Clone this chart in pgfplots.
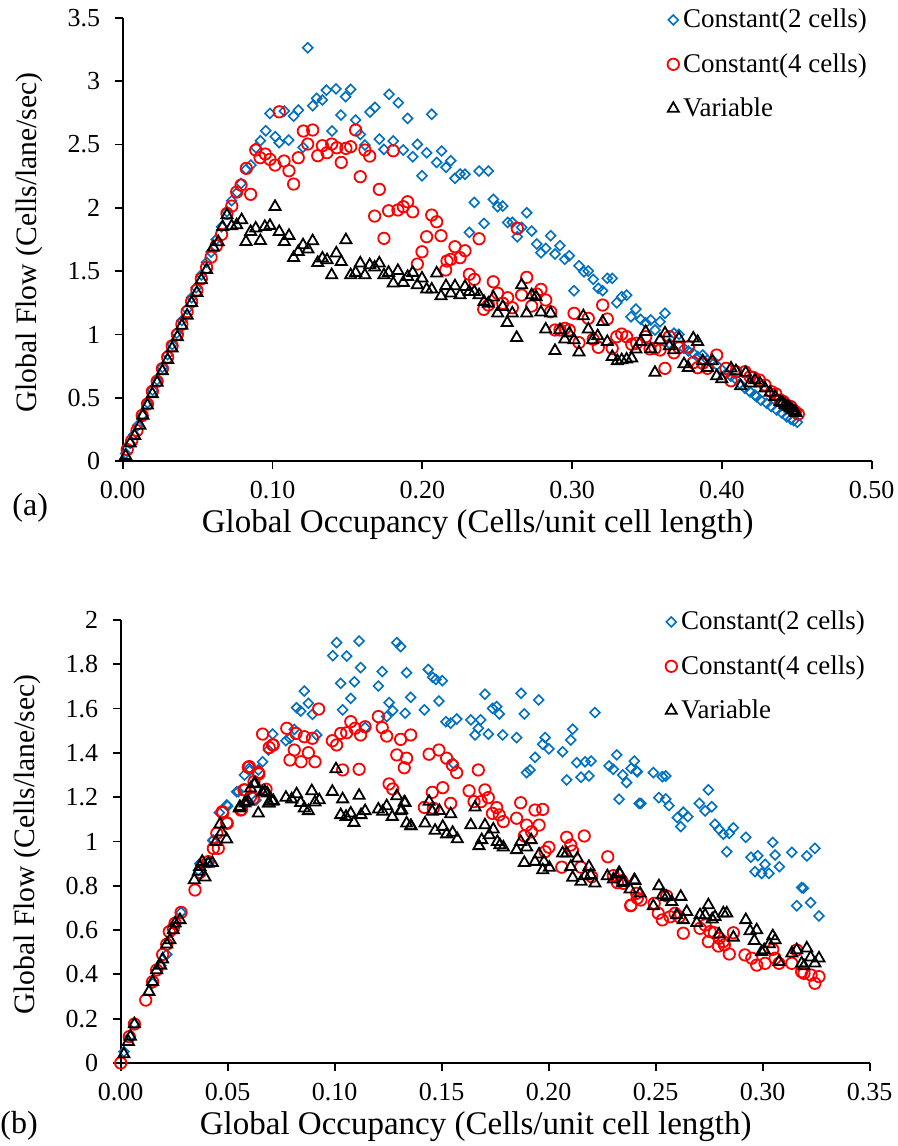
\documentclass[border=0pt]{standalone}
\usepackage{pgfplots}
\pgfplotsset{compat=1.18}
\usepackage{fontspec}
\setmainfont{Liberation Serif}
\definecolor{cblue}{HTML}{0070C0}
\definecolor{cred}{HTML}{FF0000}
\pgfplotsset{
  myaxis/.style={
    scale only axis, width=374.5pt, height=221.5pt,
    axis lines=left, axis line style={-, line width=0.9pt},
    tick align=outside, major tick length=3.8pt,
    tick style={line width=0.9pt, black},
    xmin=0, ymin=0,
    /pgf/number format/assume math mode=true,
    ticklabel style={font=\fontsize{13}{14}\selectfont},
    xlabel={Global Occupancy (Cells/unit cell length)},
    ylabel={Global Flow (Cells/lane/sec)},
    xlabel style={font=\fontsize{16.5}{18}\selectfont, at={(axis description cs:0.474,-0.144)}, anchor=center},
    ylabel style={font=\fontsize{14.8}{16}\selectfont, at={(axis description cs:-0.1245,0.493)}, anchor=center},
    xticklabel style={yshift=-3pt, /pgf/number format/.cd, fixed, fixed zerofill, precision=2},
    yticklabel style={xshift=-4pt, /pgf/number format/.cd, fixed, precision=1},
    legend style={draw=none, fill=none, font=\fontsize{13.5}{15}\selectfont,
      legend cell align=left, row sep=7.3pt, inner sep=0pt},
    legend cell align=left,
  },
  sblue/.style={only marks, mark=square, mark size=1.75pt, mark options={rotate=45, draw=cblue, line width=0.8pt}},
  sred/.style={only marks, mark=o, mark size=2.85pt, mark options={draw=cred, line width=0.9pt}},
  sblack/.style={only marks, mark=triangle, mark size=3.2pt, mark options={draw=black, line width=0.9pt}},
}
\begin{document}
\begin{tikzpicture}
\useasboundingbox (0,0) rectangle (449pt,573pt);
% ---------- panel (a) ----------
\begin{axis}[myaxis, at={(61.35pt,342.5pt)}, anchor=origin,
  xmax=0.5, ymax=3.5, xtick={0,0.1,...,0.5}, ytick={0,0.5,...,3.5},
  legend style={at={(axis description cs:0.727,1.03)}, anchor=north west}]
\addplot[sblue] table[row sep=\\]{x y\\
0.002 0.06\\ 0.005 0.14\\ 0.0075 0.21\\ 0.01 0.28\\ 0.013 0.36\\ 0.0165 0.46\\ 0.02 0.56\\ 0.023 0.64\\ 0.0265 0.74\\ 0.03 0.84\\
0.033 0.92\\ 0.036 1.01\\ 0.0395 1.11\\ 0.043 1.20\\ 0.046 1.29\\ 0.049 1.37\\ 0.0525 1.47\\ 0.056 1.57\\ 0.059 1.65\\ 0.0625 1.75\\
0.066 1.85\\ 0.0696 1.97\\ 0.0727 2.056\\ 0.0763 2.12\\ 0.079 2.193\\ 0.0823 2.304\\ 0.0856 2.338\\
0.089 2.475\\ 0.0919 2.53\\ 0.0955 2.609\\ 0.0983 2.746\\ 0.1019 2.562\\ 0.1045 2.515\\ 0.1079 2.765\\ 0.1108 2.535\\ 0.1141 2.725\\ 0.1173 2.772\\
0.1204 2.478\\ 0.1235 3.265\\ 0.1268 2.807\\ 0.1295 2.865\\ 0.1333 2.852\\ 0.136 2.93\\ 0.1397 2.607\\ 0.1424 2.94\\ 0.1457 2.733\\ 0.1488 2.878\\
0.1522 2.936\\ 0.1555 2.694\\ 0.1586 2.58\\ 0.1617 2.496\\ 0.1651 2.757\\ 0.1684 2.794\\ 0.1713 2.543\\ 0.1744 2.462\\ 0.1778 2.897\\ 0.1806 2.528\\
0.184 2.83\\ 0.1873 2.457\\ 0.1902 2.707\\ 0.1936 2.404\\ 0.1967 2.502\\ 0.1998 2.254\\ 0.2029 2.435\\ 0.2063 2.739\\ 0.2096 2.359\\ 0.2129 2.449\\
0.2158 2.32\\ 0.219 2.372\\ 0.2218 2.233\\ 0.2252 2.267\\ 0.2285 2.265\\ 0.2314 1.806\\ 0.2347 2.043\\ 0.2379 2.291\\ 0.2412 1.877\\ 0.2441 2.291\\
0.2474 2.067\\ 0.2503 2.009\\ 0.2537 2.014\\ 0.257 1.885\\ 0.2601 1.885\\ 0.2634 1.772\\ 0.2663 1.846\\ 0.2697 1.961\\ 0.273 1.817\\ 0.2764 1.714\\
0.2792 1.645\\ 0.2824 1.68\\ 0.2857 1.78\\ 0.2886 1.635\\ 0.2919 1.701\\ 0.2951 1.593\\ 0.2981 1.622\\ 0.3013 1.345\\ 0.3046 1.543\\ 0.3079 1.495\\
0.3108 1.501\\ 0.3141 1.435\\ 0.3175 1.364\\ 0.3204 1.345\\ 0.3235 1.443\\ 0.3268 1.443\\ 0.3298 1.25\\ 0.3331 1.298\\ 0.3364 1.311\\ 0.3393 1.14\\
0.3426 1.2\\ 0.3458 1.119\\ 0.3491 1.092\\ 0.3525 1.114\\ 0.3553 1.035\\ 0.3587 1.1\\ 0.362 1.167\\ 0.3649 0.93\\ 0.368 1.009\\ 0.3713 1.001\\
0.3747 0.89\\ 0.3776 0.869\\ 0.3809 0.851\\ 0.3838 0.824\\ 0.3872 0.837\\ 0.3903 0.798\\ 0.3936 0.798\\ 0.3965 0.758\\ 0.4 0.72\\ 0.403 0.69\\
0.406 0.67\\ 0.409 0.65\\ 0.412 0.61\\ 0.4154 0.574\\ 0.4188 0.547\\ 0.422 0.52\\ 0.4232 0.508\\ 0.426 0.48\\ 0.4299 0.456\\ 0.433 0.43\\
0.4366 0.403\\ 0.44 0.38\\ 0.4433 0.35\\ 0.446 0.33\\ 0.448 0.32\\ 0.4503 0.306\\
};
\addlegendentry{Constant(2 cells)}
\addplot[sred] table[row sep=\\]{x y\\
0.003 0.09\\ 0.006 0.16\\ 0.0095 0.24\\ 0.013 0.36\\ 0.0165 0.45\\ 0.0198 0.55\\ 0.023 0.63\\ 0.0265 0.73\\ 0.03 0.82\\ 0.033 0.91\\
0.0365 1.0\\ 0.0395 1.08\\ 0.043 1.18\\ 0.046 1.26\\ 0.0495 1.35\\ 0.0525 1.44\\ 0.056 1.53\\ 0.059 1.61\\ 0.0625 1.70\\ 0.066 1.79\\
0.0696 1.956\\ 0.0728 2.014\\ 0.0761 2.125\\ 0.079 2.18\\ 0.0825 2.312\\ 0.0854 2.107\\ 0.0888 2.457\\ 0.0917 2.396\\ 0.0952 2.425\\ 0.0983 2.383\\
0.1017 2.338\\ 0.1045 2.759\\ 0.1077 2.37\\ 0.111 2.293\\ 0.1141 2.188\\ 0.1172 2.396\\ 0.1206 2.607\\ 0.1235 2.504\\ 0.1268 2.615\\ 0.1302 2.412\\
0.1333 2.491\\ 0.1364 2.436\\ 0.1395 2.504\\ 0.1429 2.475\\ 0.1459 2.359\\ 0.149 2.47\\ 0.1522 2.483\\ 0.1555 2.615\\ 0.1586 2.246\\ 0.1617 2.457\\
0.1649 2.409\\ 0.1682 1.935\\ 0.1713 2.146\\ 0.1744 1.759\\ 0.1775 1.977\\ 0.1806 2.451\\ 0.1837 1.983\\ 0.1873 2.009\\ 0.1902 2.048\\ 0.1936 1.969\\
0.1967 1.556\\ 0.1998 1.653\\ 0.2029 1.772\\ 0.2063 1.943\\ 0.2096 1.89\\ 0.2125 1.78\\ 0.2156 1.509\\ 0.2165 1.58\\ 0.219 1.593\\ 0.2218 1.693\\
0.2252 1.606\\ 0.2285 1.661\\ 0.2314 1.475\\ 0.2347 1.435\\ 0.2379 1.756\\ 0.241 1.198\\ 0.2441 1.232\\ 0.2474 1.416\\ 0.2503 1.325\\ 0.2537 1.246\\
0.257 1.29\\ 0.2601 1.211\\ 0.2634 1.838\\ 0.2663 1.311\\ 0.2697 1.451\\ 0.273 1.224\\ 0.2764 1.319\\ 0.2792 1.356\\ 0.2824 1.272\\ 0.2857 1.179\\
0.2886 1.035\\ 0.2919 1.035\\ 0.2952 1.048\\ 0.2981 1.035\\ 0.3013 1.167\\ 0.3046 0.935\\ 0.3108 1.127\\ 0.3141 0.961\\ 0.3175 0.898\\ 0.3204 1.232\\
0.3235 1.122\\ 0.3268 0.89\\ 0.3298 0.982\\ 0.3331 1.003\\ 0.3364 0.982\\ 0.3398 0.922\\ 0.3431 0.93\\ 0.3491 0.982\\ 0.352 0.885\\ 0.3553 0.89\\
0.3587 0.877\\ 0.362 0.732\\ 0.3649 0.982\\ 0.368 0.855\\ 0.3713 0.895\\ 0.3776 0.903\\ 0.3809 0.777\\ 0.3838 0.737\\ 0.3872 0.772\\ 0.3903 0.732\\
0.3965 0.837\\ 0.4027 0.732\\ 0.4061 0.634\\ 0.4094 0.705\\ 0.4154 0.705\\ 0.4188 0.666\\ 0.421 0.66\\ 0.425 0.64\\ 0.4288 0.6\\ 0.4332 0.547\\
0.436 0.53\\ 0.4389 0.482\\ 0.441 0.47\\ 0.4433 0.442\\ 0.446 0.43\\ 0.4477 0.403\\ 0.449 0.39\\ 0.451 0.371\\
};
\addlegendentry{Constant(4 cells)}
\addplot[sblack] table[row sep=\\]{x y\\
0.002 0.04\\ 0.005 0.14\\ 0.008 0.2\\ 0.0115 0.28\\ 0.0135 0.36\\ 0.0165 0.44\\ 0.0198 0.53\\ 0.023 0.62\\ 0.0265 0.71\\ 0.03 0.8\\
0.033 0.89\\ 0.0365 0.98\\ 0.0395 1.07\\ 0.043 1.15\\ 0.046 1.25\\ 0.0495 1.33\\ 0.0525 1.43\\ 0.056 1.51\\ 0.0605 1.688\\ 0.0638 1.73\\
0.0667 1.85\\ 0.0696 1.943\\ 0.0727 1.856\\ 0.0761 1.864\\ 0.0794 1.904\\ 0.0823 1.732\\ 0.0854 1.811\\ 0.0888 1.838\\ 0.0919 1.74\\ 0.0949 1.851\\
0.0983 1.859\\ 0.1017 2.009\\ 0.1045 1.811\\ 0.1079 1.732\\ 0.111 1.78\\ 0.1141 1.606\\ 0.1172 1.653\\ 0.1204 1.706\\ 0.1237 1.672\\ 0.1268 1.738\\
0.1302 1.566\\ 0.1333 1.601\\ 0.1364 1.588\\ 0.1395 1.469\\ 0.1426 1.641\\ 0.1459 1.574\\ 0.149 1.746\\ 0.1522 1.469\\ 0.1555 1.488\\ 0.1586 1.562\\
0.1617 1.469\\ 0.1649 1.548\\ 0.1682 1.53\\ 0.1713 1.562\\ 0.1744 1.469\\ 0.1775 1.488\\ 0.1806 1.404\\ 0.1837 1.503\\ 0.1873 1.409\\ 0.1902 1.456\\
0.1936 1.488\\ 0.1967 1.39\\ 0.1998 1.443\\ 0.2029 1.356\\ 0.2063 1.356\\ 0.2096 1.483\\ 0.2125 1.303\\ 0.2158 1.383\\ 0.219 1.325\\ 0.2218 1.382\\
0.2252 1.311\\ 0.2285 1.377\\ 0.2314 1.337\\ 0.2347 1.337\\ 0.2379 1.311\\ 0.2412 1.258\\ 0.2441 1.245\\ 0.2474 1.293\\ 0.2503 1.167\\ 0.2537 1.219\\
0.2567 1.092\\ 0.2601 1.167\\ 0.263 0.974\\ 0.2663 1.39\\ 0.2697 1.167\\ 0.273 1.311\\ 0.2759 1.298\\ 0.2792 1.175\\ 0.2824 1.04\\ 0.2857 1.167\\
0.2886 0.871\\ 0.2919 1.035\\ 0.2951 0.961\\ 0.2981 1.009\\ 0.3013 0.956\\ 0.3046 0.859\\ 0.3075 1.145\\ 0.3108 1.04\\ 0.3137 0.956\\ 0.3171 0.987\\
0.3204 1.1\\ 0.3235 0.942\\ 0.3268 0.824\\ 0.3302 0.79\\ 0.3331 0.798\\ 0.3364 0.803\\ 0.3398 0.811\\ 0.3426 0.882\\ 0.3458 0.942\\ 0.3491 1.021\\
0.3525 0.885\\ 0.3553 0.698\\ 0.3587 0.956\\ 0.362 1.009\\ 0.3649 0.908\\ 0.368 0.877\\ 0.3713 0.969\\ 0.3747 0.766\\ 0.3776 0.737\\ 0.3809 0.969\\
0.3838 0.942\\ 0.3872 0.79\\ 0.3903 0.737\\ 0.3936 0.79\\ 0.3965 0.671\\ 0.3999 0.648\\ 0.4061 0.732\\ 0.4094 0.711\\ 0.4125 0.592\\ 0.4159 0.698\\
0.4188 0.614\\ 0.4221 0.64\\ 0.4254 0.614\\ 0.4288 0.574\\ 0.4321 0.54\\ 0.4354 0.508\\ 0.4389 0.468\\ 0.4405 0.46\\ 0.4422 0.442\\ 0.444 0.43\\
0.4455 0.416\\ 0.447 0.4\\ 0.4488 0.39\\ 0.4495 0.38\\
};
\addlegendentry{Variable}
\end{axis}
\node[anchor=west, inner sep=0pt, font=\fontsize{16}{17}\selectfont] at (6pt,319pt) {(a)};
% ---------- panel (b) ----------
\begin{axis}[myaxis, at={(60.35pt,41.5pt)}, anchor=origin,
  xmax=0.35, ymax=2, xtick={0,0.05,...,0.35}, ytick={0,0.2,...,2},
  legend style={at={(axis description cs:0.727,1.03)}, anchor=north west}]
\addplot[sblue] table[row sep=\\]{x y\\
0.0015 0.051\\ 0.0045 0.12\\ 0.0064 0.176\\ 0.0149 0.36\\ 0.0187 0.44\\ 0.0215 0.49\\ 0.0246 0.6\\ 0.0282 0.68\\ 0.0363 0.87\\ 0.037 0.9\\
0.0409 0.909\\ 0.043 1.004\\ 0.0433 1.007\\ 0.0461 1.13\\ 0.0495 1.165\\ 0.05 1.16\\ 0.0542 1.225\\ 0.055 1.225\\ 0.0578 1.3\\ 0.0601 1.33\\
0.0603 1.32\\ 0.0632 1.187\\ 0.0643 1.323\\ 0.0663 1.36\\ 0.069 1.413\\ 0.071 1.485\\ 0.0772 1.455\\ 0.0791 1.466\\ 0.0811 1.506\\ 0.0822 1.604\\
0.0841 1.589\\ 0.0858 1.679\\ 0.0877 1.624\\ 0.0896 1.574\\ 0.0916 1.481\\ 0.0991 1.839\\ 0.1009 1.898\\ 0.1028 1.714\\ 0.1037 1.594\\ 0.1056 1.837\\
0.1075 1.646\\ 0.1092 1.721\\ 0.1114 1.905\\ 0.1121 1.785\\ 0.1142 1.514\\ 0.1204 1.702\\ 0.1222 1.767\\ 0.1243 1.564\\ 0.1254 1.627\\ 0.1271 1.591\\
0.129 1.898\\ 0.1308 1.88\\ 0.1329 1.579\\ 0.1336 1.762\\ 0.1355 1.651\\ 0.1419 1.594\\ 0.1437 1.777\\ 0.1458 1.741\\ 0.1473 1.732\\ 0.1487 1.634\\
0.1503 1.726\\ 0.152 1.541\\ 0.1542 1.534\\ 0.1554 1.353\\ 0.157 1.553\\ 0.1636 1.549\\ 0.1656 1.481\\ 0.1671 1.511\\ 0.1682 1.549\\ 0.1702 1.665\\
0.1718 1.485\\ 0.1738 1.601\\ 0.1757 1.609\\ 0.1769 1.576\\ 0.1785 1.481\\ 0.185 1.469\\ 0.1871 1.669\\ 0.1886 1.576\\ 0.1897 1.311\\ 0.1913 1.323\\
0.1936 1.38\\ 0.1953 1.639\\ 0.1972 1.439\\ 0.1983 1.469\\ 0.2001 1.418\\ 0.2065 1.405\\ 0.2084 1.278\\ 0.2103 1.458\\ 0.2112 1.507\\ 0.2131 1.356\\
0.2151 1.29\\ 0.217 1.36\\ 0.2188 1.296\\ 0.2198 1.363\\ 0.2216 1.582\\ 0.2282 1.341\\ 0.2302 1.326\\ 0.2318 1.391\\ 0.2329 1.191\\ 0.2346 1.3\\
0.2364 1.266\\ 0.2385 1.33\\ 0.24 1.363\\ 0.2411 1.318\\ 0.2414 1.315\\ 0.2423 1.172\\ 0.2431 1.172\\ 0.2489 1.311\\ 0.2515 1.198\\ 0.2531 1.293\\
0.2547 1.296\\ 0.2547 1.192\\ 0.2562 1.162\\ 0.2601 1.108\\ 0.2617 1.067\\ 0.2629 1.132\\ 0.265 1.112\\ 0.2704 1.172\\ 0.2731 1.138\\ 0.2746 1.233\\
0.2762 1.157\\ 0.2777 1.078\\ 0.2796 1.055\\ 0.2816 1.033\\ 0.2832 0.954\\ 0.2844 1.037\\ 0.2863 1.062\\ 0.2921 1.019\\ 0.2945 0.929\\ 0.2964 0.864\\
0.2977 0.936\\ 0.2995 0.856\\ 0.3011 0.897\\ 0.3029 0.856\\ 0.3047 0.996\\ 0.3058 0.939\\ 0.3078 0.886\\ 0.3136 0.951\\ 0.3159 0.71\\ 0.3182 0.792\\
0.319 0.789\\ 0.3206 0.935\\ 0.3224 0.724\\ 0.3244 0.969\\ 0.3263 0.664\\
};
\addlegendentry{Constant(2 cells)}
\addplot[sred] table[row sep=\\]{x y\\
0 0\\ 0.004 0.119\\ 0.0064 0.176\\ 0.0117 0.284\\ 0.0149 0.367\\ 0.0168 0.42\\ 0.0196 0.49\\ 0.0215 0.536\\ 0.0227 0.593\\ 0.0246 0.608\\
0.0254 0.631\\ 0.0282 0.68\\ 0.0347 0.781\\ 0.037 0.86\\ 0.0409 0.909\\ 0.0433 0.969\\ 0.0449 1.037\\ 0.0456 0.969\\ 0.0475 1.135\\ 0.0477 1.13\\
0.0495 1.085\\ 0.0498 1.082\\ 0.0561 1.142\\ 0.0565 1.145\\ 0.0576 1.233\\ 0.0581 1.233\\ 0.0596 1.335\\ 0.0601 1.338\\ 0.0607 1.202\\ 0.062 1.195\\
0.0623 1.27\\ 0.0643 1.311\\ 0.0646 1.305\\ 0.0663 1.485\\ 0.0679 1.236\\ 0.0694 1.424\\ 0.071 1.436\\ 0.0713 1.436\\ 0.0776 1.511\\ 0.0791 1.368\\
0.0811 1.413\\ 0.0819 1.488\\ 0.0843 1.36\\ 0.0858 1.473\\ 0.0877 1.401\\ 0.0896 1.466\\ 0.0908 1.36\\ 0.0925 1.598\\ 0.0989 1.455\\ 0.1009 1.436\\
0.1028 1.488\\ 0.1037 1.323\\ 0.1056 1.491\\ 0.1075 1.541\\ 0.1095 1.511\\ 0.1114 1.326\\ 0.1121 1.481\\ 0.1142 1.518\\ 0.1204 1.564\\ 0.1222 1.514\\
0.1243 1.476\\ 0.1254 1.26\\ 0.1271 1.237\\ 0.129 1.391\\ 0.1308 1.461\\ 0.1325 1.333\\ 0.1336 1.376\\ 0.1355 1.481\\ 0.1419 1.154\\ 0.1441 1.394\\
0.1456 1.222\\ 0.1461 1.15\\ 0.1487 1.413\\ 0.1505 1.243\\ 0.1523 1.376\\ 0.1542 1.172\\ 0.155 1.345\\ 0.157 1.311\\ 0.1628 1.229\\ 0.1651 1.18\\
0.1671 1.323\\ 0.1684 1.18\\ 0.1702 1.233\\ 0.1718 1.198\\ 0.1737 1.127\\ 0.1757 1.153\\ 0.1769 1.12\\ 0.1788 1.09\\ 0.185 1.105\\ 0.1869 1.175\\
0.1886 1.025\\ 0.1897 1.074\\ 0.192 1.044\\ 0.1936 1.142\\ 0.1955 1.074\\ 0.1972 1.145\\ 0.1983 0.954\\ 0.2001 0.974\\ 0.2061 0.884\\ 0.2084 1.019\\
0.2103 0.984\\ 0.2112 0.957\\ 0.215 0.884\\ 0.2166 1.025\\ 0.2201 0.841\\ 0.2276 0.931\\ 0.2302 0.846\\ 0.2321 0.814\\ 0.2341 0.823\\ 0.2348 0.811\\
0.2383 0.71\\ 0.2385 0.713\\ 0.2411 0.766\\ 0.2414 0.744\\ 0.2431 0.736\\ 0.2493 0.721\\ 0.2512 0.676\\ 0.2531 0.646\\ 0.2551 0.754\\ 0.2567 0.66\\
0.259 0.676\\ 0.261 0.66\\ 0.2629 0.586\\ 0.2707 0.608\\ 0.2731 0.623\\ 0.2746 0.548\\ 0.2754 0.593\\ 0.2774 0.588\\ 0.2793 0.528\\ 0.2797 0.563\\
0.2816 0.548\\ 0.2821 0.533\\ 0.2844 0.492\\ 0.2863 0.588\\ 0.2917 0.488\\ 0.2949 0.473\\ 0.2972 0.442\\ 0.3011 0.45\\ 0.3047 0.513\\ 0.3058 0.473\\
0.3076 0.45\\ 0.3136 0.45\\ 0.3159 0.51\\ 0.3182 0.412\\ 0.3193 0.405\\ 0.3226 0.397\\ 0.3244 0.36\\ 0.3263 0.39\\
};
\addlegendentry{Constant(4 cells)}
\addplot[sblack] table[row sep=\\]{x y\\
0.0015 0.04\\ 0.0036 0.096\\ 0.0045 0.12\\ 0.0064 0.176\\ 0.0132 0.322\\ 0.0149 0.367\\ 0.0168 0.42\\ 0.0187 0.44\\ 0.0196 0.468\\ 0.0215 0.536\\
0.023 0.555\\ 0.0246 0.6\\ 0.0254 0.631\\ 0.0277 0.646\\ 0.0344 0.826\\ 0.0363 0.864\\ 0.037 0.886\\ 0.0381 0.909\\ 0.0394 0.838\\ 0.0409 0.9\\
0.0428 0.904\\ 0.0445 0.999\\ 0.0464 1.078\\ 0.0472 1.042\\ 0.0495 1.01\\ 0.0554 1.15\\ 0.0557 1.157\\ 0.0581 1.172\\ 0.0584 1.18\\ 0.0596 1.18\\
0.0607 1.24\\ 0.0623 1.26\\ 0.0628 1.263\\ 0.0643 1.127\\ 0.0663 1.222\\ 0.0674 1.225\\ 0.0685 1.218\\ 0.069 1.172\\ 0.0694 1.172\\ 0.071 1.18\\
0.0713 1.184\\ 0.0772 1.198\\ 0.0799 1.191\\ 0.0822 1.214\\ 0.0841 1.175\\ 0.0858 1.15\\ 0.0877 1.138\\ 0.0893 1.228\\ 0.0908 1.177\\ 0.0928 1.187\\
0.0989 1.225\\ 0.1006 1.327\\ 0.1028 1.12\\ 0.1037 1.191\\ 0.1053 1.112\\ 0.1075 1.127\\ 0.109 1.085\\ 0.1114 1.207\\ 0.1123 1.12\\ 0.1142 1.138\\
0.1204 1.145\\ 0.1224 1.135\\ 0.1243 1.16\\ 0.1269 1.112\\ 0.129 1.205\\ 0.1308 1.138\\ 0.1313 1.142\\ 0.1325 1.177\\ 0.1329 1.175\\ 0.1336 1.082\\
0.1355 1.07\\ 0.1357 1.07\\ 0.1422 1.082\\ 0.1441 1.18\\ 0.1456 1.135\\ 0.1469 1.049\\ 0.1489 1.139\\ 0.1505 1.067\\ 0.1523 1.033\\ 0.1542 1.124\\
0.1551 1.04\\ 0.1573 1.011\\ 0.1636 1.074\\ 0.1656 1.154\\ 0.1674 0.98\\ 0.1687 1.007\\ 0.1702 1.074\\ 0.1722 1.029\\ 0.1741 1.055\\ 0.176 0.999\\
0.1772 0.984\\ 0.1788 0.974\\ 0.185 0.962\\ 0.1869 0.999\\ 0.1886 0.904\\ 0.1897 0.974\\ 0.1918 1.007\\ 0.1936 0.909\\ 0.1955 0.942\\ 0.1972 0.871\\
0.1978 0.909\\ 0.2003 0.882\\ 0.2065 0.947\\ 0.2084 0.947\\ 0.2103 0.886\\ 0.2112 0.837\\ 0.2134 0.924\\ 0.2151 0.819\\ 0.217 0.844\\ 0.2188 0.886\\
0.2196 0.849\\ 0.2216 0.811\\ 0.2274 0.844\\ 0.2302 0.829\\ 0.2329 0.859\\ 0.2333 0.853\\ 0.2346 0.814\\ 0.2348 0.819\\ 0.238 0.784\\ 0.24 0.826\\
0.2403 0.823\\ 0.2427 0.766\\ 0.2489 0.709\\ 0.2515 0.799\\ 0.2531 0.758\\ 0.2551 0.751\\ 0.2575 0.728\\ 0.2598 0.668\\ 0.2617 0.751\\ 0.2629 0.646\\
0.2645 0.683\\ 0.2692 0.633\\ 0.2707 0.668\\ 0.2731 0.668\\ 0.2746 0.713\\ 0.2764 0.649\\ 0.2777 0.66\\ 0.2796 0.581\\ 0.2816 0.676\\ 0.2832 0.676\\
0.2863 0.567\\ 0.2921 0.646\\ 0.2941 0.596\\ 0.2961 0.552\\ 0.2972 0.6\\ 0.2995 0.502\\ 0.3007 0.51\\ 0.3031 0.537\\ 0.3047 0.573\\ 0.3058 0.555\\
0.3076 0.457\\ 0.3136 0.495\\ 0.3159 0.51\\ 0.3182 0.45\\ 0.3193 0.438\\ 0.3206 0.518\\ 0.3224 0.477\\ 0.3244 0.45\\ 0.3263 0.473\\
};
\addlegendentry{Variable}
\end{axis}
\node[anchor=west, inner sep=0pt, font=\fontsize{16}{17}\selectfont] at (0pt,10pt) {(b)};
\end{tikzpicture}
\end{document}
